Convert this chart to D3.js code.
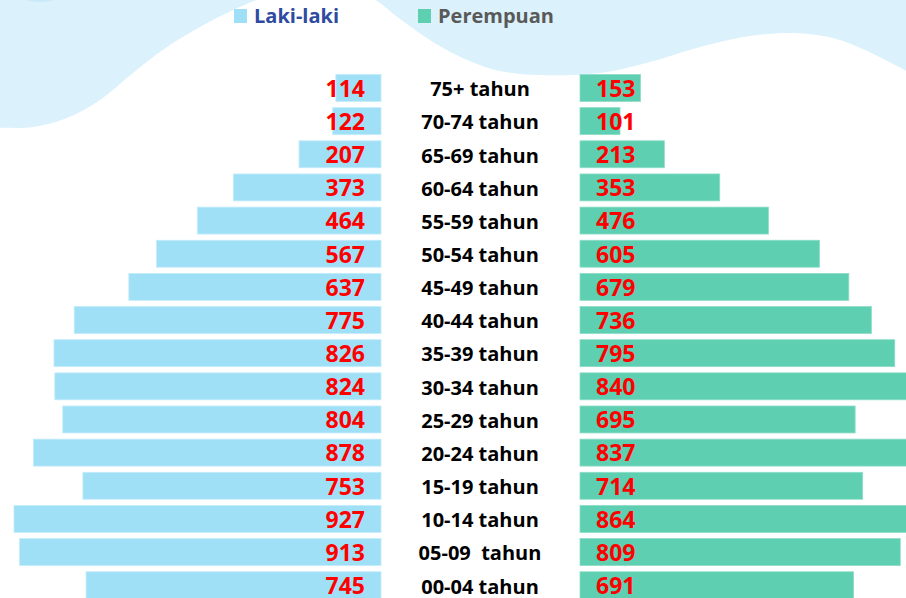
<!DOCTYPE html>
<html>
<head>
<meta charset="utf-8">
<script src="https://cdn.jsdelivr.net/npm/d3@7"></script>
<style>
  html, body { margin: 0; padding: 0; background: #ffffff; }
  svg { display: block; }
  text { font-family: "Open Sans", "DejaVu Sans", sans-serif; font-weight: 700; }
</style>
</head>
<body>
<div id="chart"></div>
<script>
// ---- Data ----
const categories = ["75+ tahun", "70-74 tahun", "65-69 tahun", "60-64 tahun", "55-59 tahun",
  "50-54 tahun", "45-49 tahun", "40-44 tahun", "35-39 tahun", "30-34 tahun",
  "25-29 tahun", "20-24 tahun", "15-19 tahun", "10-14 tahun", "05-09  tahun", "00-04 tahun"];
const lakiLaki  = [114, 122, 207, 373, 464, 567, 637, 775, 826, 824, 804, 878, 753, 927, 913, 745];
const perempuan = [153, 101, 213, 353, 476, 605, 679, 736, 795, 840, 695, 837, 714, 864, 809, 691];
const seriesNames = ["Laki-laki", "Perempuan"];

// background wave (decorative), boundary points
const wavePoints = [[-10,129],[0,128],[33,127],[67,118],[100,100],[133,73],[167,47],[200,27],[233,10],[262,-2],
  [316,-22],[372,-2],[400,19],[433,42],[467,60],[500,71],[540,75],[600,73],[650,62],[700,47],[750,36],
  [793,33],[833,38],[867,51],[916,76]];

const W = 906, H = 598;
const svg = d3.select("#chart").append("svg").attr("width", W).attr("height", H);

// Background wave
const line = d3.line().curve(d3.curveCatmullRom.alpha(0.5));
const waveD = line(wavePoints) + `L${W+10},-30L-10,-30Z`;
svg.append("path").attr("d", waveD).attr("fill", "#DBF1FB");
svg.append("ellipse").attr("cx", 40).attr("cy", -22).attr("rx", 36).attr("ry", 24).attr("fill", "#C8E9F8");

// Scales
const maxV = 927;
const xLeft = d3.scaleLinear().domain([0, maxV]).range([381, 14]);
const xRight = d3.scaleLinear().domain([0, maxV]).range([580, 947]);
const y = d3.scaleBand().domain(categories).range([71.4, 601.8]).paddingInner(0.187).paddingOuter(0.0935);

const cBlue = "#A0E0F7", cTeal = "#5ECFB1";

const rows = categories.map((c, i) => ({ cat: c, l: lakiLaki[i], p: perempuan[i] }));

// Left bars
svg.append("g").selectAll("rect").data(rows).join("rect")
  .attr("x", d => xLeft(d.l)).attr("y", d => y(d.cat))
  .attr("width", d => xLeft(0) - xLeft(d.l)).attr("height", y.bandwidth())
  .attr("fill", cBlue).attr("stroke", "#C4ECFA").attr("stroke-width", 0.8);

// Right bars
svg.append("g").selectAll("rect").data(rows).join("rect")
  .attr("x", xRight(0)).attr("y", d => y(d.cat))
  .attr("width", d => xRight(d.p) - xRight(0)).attr("height", y.bandwidth())
  .attr("fill", cTeal).attr("stroke", "#8EDDC8").attr("stroke-width", 0.8);

// Value labels
svg.append("g").selectAll("text").data(rows).join("text")
  .attr("x", 365).attr("y", d => y(d.cat) + y.bandwidth() / 2 + 8.8)
  .attr("text-anchor", "end").attr("font-size", 23).attr("fill", "#FF0000")
  .text(d => d.l);
svg.append("g").selectAll("text").data(rows).join("text")
  .attr("x", 596).attr("y", d => y(d.cat) + y.bandwidth() / 2 + 8.8)
  .attr("text-anchor", "start").attr("font-size", 23).attr("fill", "#FF0000")
  .text(d => d.p);

// Category labels
svg.append("g").selectAll("text").data(rows).join("text")
  .attr("x", 480).attr("y", d => y(d.cat) + y.bandwidth() / 2 + 8.3)
  .attr("text-anchor", "middle").attr("font-size", 20).attr("fill", "#000000")
  .style("white-space", "pre").attr("xml:space", "preserve")
  .text(d => d.cat);

// Legend
const legend = [
  { name: seriesNames[0], color: cBlue, text: "#2E4B9F", x: 234 },
  { name: seriesNames[1], color: cTeal, text: "#595959", x: 418 }
];
const lg = svg.append("g").selectAll("g").data(legend).join("g");
lg.append("rect").attr("x", d => d.x).attr("y", 9).attr("width", 13).attr("height", 14).attr("fill", d => d.color);
lg.append("text").attr("x", d => d.x + 20).attr("y", 23).attr("font-size", 20)
  .attr("fill", d => d.text).text(d => d.name);
</script>
</body>
</html>
